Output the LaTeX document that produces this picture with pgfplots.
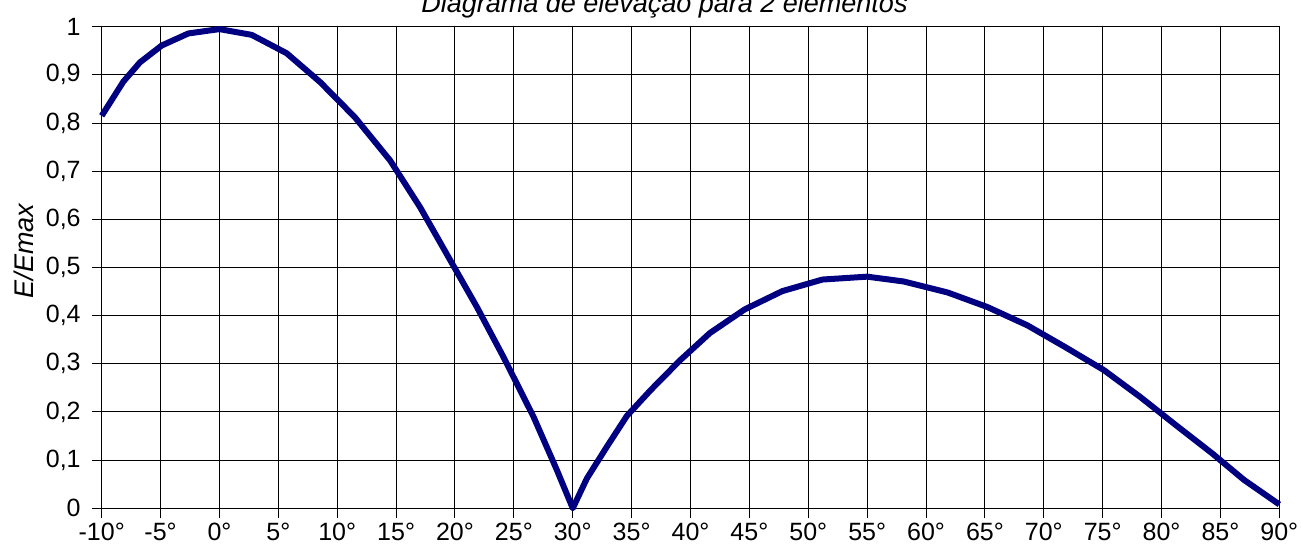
\documentclass[border=0pt]{standalone}
\usepackage{fontspec}
\setmainfont{Liberation Sans}
\usepackage{pgfplots}
\pgfplotsset{compat=1.18}
\definecolor{navyline}{RGB}{0,0,128}
\begin{document}
\begin{tikzpicture}
\useasboundingbox (-50.85pt,-19.85pt) rectangle (599.65pt,254.15pt);
\begin{axis}[
  at={(0pt,0pt)}, anchor=south west,
  scale only axis,
  width=588.8pt, height=240.8pt,
  xmin=-10, xmax=90, ymin=0, ymax=1,
  xtick={-10,-5,...,90},
  xticklabels={-10°,-5°,0°,5°,10°,15°,20°,25°,30°,35°,40°,45°,50°,55°,60°,65°,70°,75°,80°,85°,90°},
  ytick={0,0.1,...,1.01},
  /pgf/number format/assume math mode=true,
  /pgf/number format/use comma,
  /pgf/number format/fixed,
  /pgf/number format/precision=1,
  grid=major,
  major grid style={black, line width=0.5pt},
  axis line style={black, line width=0.6pt},
  tick align=outside,
  tick pos=left,
  major tick length=5pt,
  tick style={black, line width=0.5pt},
  ticklabel style={font=\fontsize{12.5}{15}\selectfont},
  xticklabel style={yshift=-1.2pt, inner sep=1pt},
  yticklabel style={xshift=-2pt},
  clip=false,
]
\addplot[navyline, line width=3pt, line join=round] coordinates {
(-10,0.815) (-8.16,0.886) (-6.75,0.926) (-4.9,0.961) (-2.64,0.986) (0,0.995)
(2.74,0.983) (5.7,0.945) (8.55,0.885) (11.5,0.812) (14.5,0.722) (17.04,0.625)
(19.6,0.515) (21.86,0.418) (24.12,0.314) (26.67,0.190) (28.66,0.079) (30,0.0)
(31.2,0.062) (32.9,0.128) (34.6,0.192) (36.6,0.245) (39.1,0.307) (41.65,0.364)
(44.6,0.413) (47.8,0.451) (51.2,0.475) (55.0,0.481) (58.1,0.471) (61.85,0.448)
(65.2,0.418) (68.6,0.380) (71.8,0.335) (75.1,0.287) (78.2,0.231) (81.2,0.173)
(84.3,0.114) (87.0,0.059) (90,0.008)
};
\node[rotate=90, font=\itshape\fontsize{13.5}{16}\selectfont] at (rel axis cs:-0.066,0.534) {E/Emax};
\node[anchor=base east, font=\itshape\fontsize{13.5}{16}\selectfont, inner sep=0pt] at (rel axis cs:0.6847,1.0285) {Diagrama de elevação para 2 elementos};
\end{axis}
\end{tikzpicture}
\end{document}
